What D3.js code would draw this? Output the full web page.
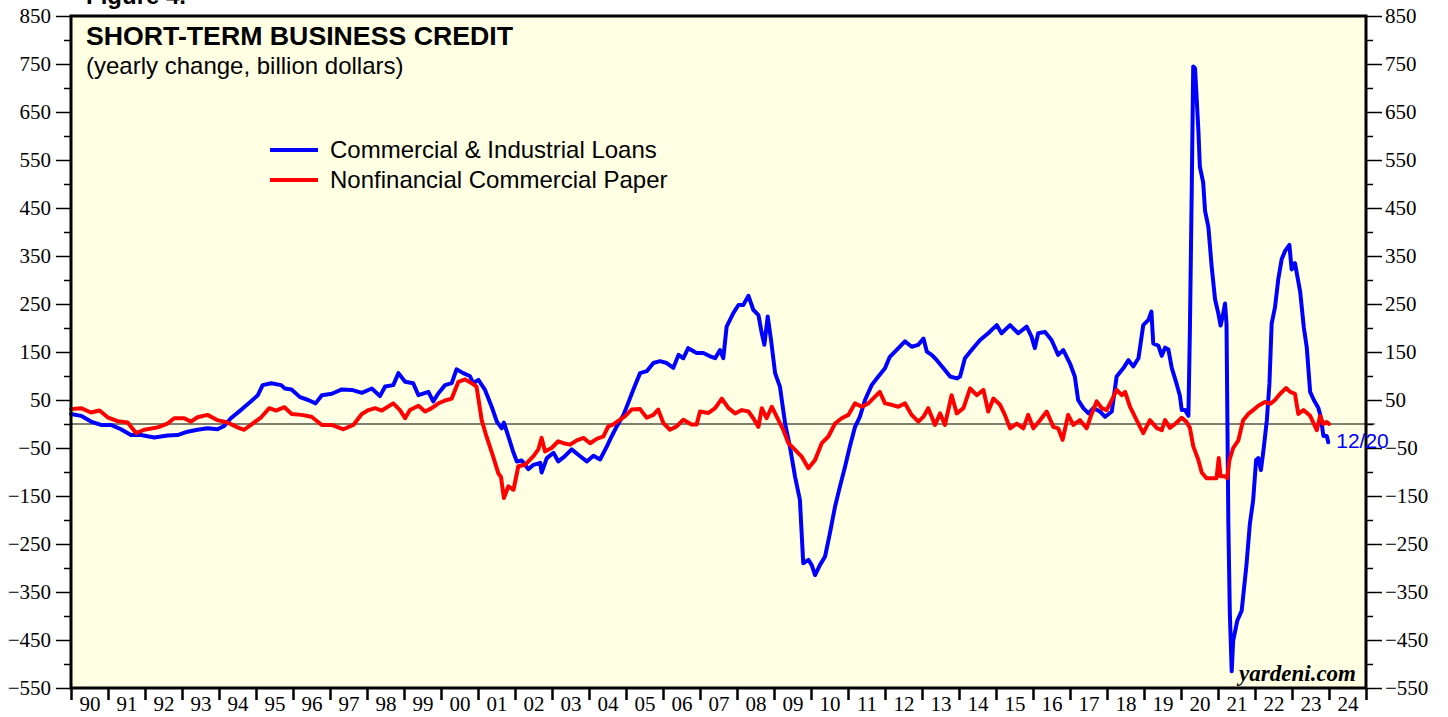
<!DOCTYPE html>
<html>
<head>
<meta charset="utf-8">
<script src="https://cdn.jsdelivr.net/npm/d3@7"></script>
<style>
  body { margin: 0; background: #fff; }
  .axis text { font-family: "Liberation Serif", "Times New Roman", serif; font-size: 21px; fill: #000; }
  .axis line { stroke: #000; stroke-width: 1.5; }
  .axis path { display: none; }
</style>
</head>
<body>
<div id="chart"></div>
<script>
const width = 1448;
const height = 717;
const plot = { left: 71, right: 1366, top: 16, bottom: 688 };

// yearly change, billion dollars  [decimal year, value]
const ciLoans = [
  [1990.00, 21], [1990.27, 17], [1990.54, 5], [1990.81, -2], [1991.08, -2], [1991.35, -11],
  [1991.62, -23], [1991.89, -23], [1992.25, -28], [1992.61, -24], [1992.88, -23], [1993.15, -16],
  [1993.42, -12], [1993.69, -9], [1993.96, -11], [1994.14, -4], [1994.32, 12], [1994.59, 29],
  [1994.86, 47], [1995.05, 60], [1995.18, 81], [1995.41, 85], [1995.68, 81], [1995.78, 74],
  [1995.96, 72], [1996.19, 56], [1996.41, 50], [1996.61, 43], [1996.78, 60], [1997.05, 63],
  [1997.32, 72], [1997.59, 71], [1997.86, 65], [1998.13, 74], [1998.35, 58], [1998.49, 78],
  [1998.71, 81], [1998.85, 106], [1999.03, 88], [1999.25, 85], [1999.39, 60], [1999.66, 67],
  [1999.79, 47], [1999.93, 64], [2000.11, 81], [2000.29, 85], [2000.42, 114], [2000.60, 106],
  [2000.78, 100], [2000.87, 85], [2001.01, 92], [2001.19, 71], [2001.37, 36], [2001.51, 5],
  [2001.64, -9], [2001.70, 3], [2001.82, -26], [2001.96, -60], [2002.05, -78], [2002.18, -76],
  [2002.36, -94], [2002.50, -85], [2002.68, -81], [2002.72, -101], [2002.86, -71], [2003.04, -60],
  [2003.17, -78], [2003.35, -67], [2003.53, -53], [2003.71, -64], [2003.94, -78], [2004.12, -66],
  [2004.30, -74], [2004.48, -47], [2004.61, -26], [2004.75, -5], [2004.93, 19], [2005.06, 44],
  [2005.20, 72], [2005.38, 106], [2005.56, 110], [2005.74, 127], [2005.92, 131], [2006.10, 127],
  [2006.28, 117], [2006.42, 144], [2006.55, 137], [2006.68, 158], [2006.91, 148], [2007.09, 148],
  [2007.27, 141], [2007.41, 137], [2007.54, 154], [2007.63, 137], [2007.72, 203], [2007.81, 217],
  [2007.90, 231], [2008.04, 248], [2008.17, 248], [2008.31, 267], [2008.44, 238], [2008.58, 227],
  [2008.67, 189], [2008.74, 165], [2008.83, 224], [2008.92, 175], [2009.03, 106], [2009.16, 78],
  [2009.30, 1], [2009.43, -47], [2009.57, -110], [2009.70, -158], [2009.79, -290], [2009.93, -283],
  [2010.02, -294], [2010.11, -315], [2010.24, -294], [2010.38, -276], [2010.51, -228], [2010.65, -172],
  [2010.78, -131], [2010.92, -89], [2011.05, -47], [2011.19, -6], [2011.32, 15], [2011.46, 50],
  [2011.64, 81], [2011.82, 99], [2012.00, 116], [2012.13, 140], [2012.31, 154], [2012.54, 172],
  [2012.72, 161], [2012.90, 165], [2013.04, 178], [2013.13, 151], [2013.26, 144], [2013.35, 137],
  [2013.40, 133], [2013.58, 116], [2013.76, 99], [2013.94, 95], [2014.03, 99], [2014.16, 137],
  [2014.34, 154], [2014.57, 175], [2014.79, 189], [2015.02, 206], [2015.15, 189], [2015.38, 206],
  [2015.60, 189], [2015.83, 203], [2015.96, 182], [2016.05, 158], [2016.14, 189], [2016.32, 192],
  [2016.50, 175], [2016.68, 144], [2016.82, 154], [2017.00, 126], [2017.13, 99], [2017.22, 50],
  [2017.36, 33], [2017.50, 22], [2017.63, 33], [2017.81, 26], [2017.95, 15], [2018.13, 26],
  [2018.26, 99], [2018.44, 116], [2018.58, 133], [2018.71, 120], [2018.85, 137], [2018.98, 206],
  [2019.12, 217], [2019.20, 234], [2019.25, 168], [2019.39, 163], [2019.48, 142], [2019.57, 159],
  [2019.66, 155], [2019.75, 117], [2019.88, 84], [2019.97, 59], [2020.02, 29], [2020.11, 29],
  [2020.20, 17], [2020.24, 193], [2020.29, 486], [2020.33, 745], [2020.38, 741], [2020.47, 611],
  [2020.51, 536], [2020.60, 503], [2020.65, 444], [2020.74, 410], [2020.83, 327], [2020.92, 260],
  [2021.01, 230], [2021.07, 205], [2021.13, 226], [2021.19, 251], [2021.23, 209], [2021.28, -209],
  [2021.32, -394], [2021.37, -515], [2021.41, -452], [2021.52, -410], [2021.64, -389], [2021.77, -293],
  [2021.86, -209], [2021.95, -159], [2022.03, -75], [2022.09, -71], [2022.16, -96], [2022.23, -54],
  [2022.32, 8], [2022.39, 84], [2022.45, 209], [2022.54, 243], [2022.63, 302], [2022.72, 343],
  [2022.81, 360], [2022.93, 373], [2022.99, 322], [2023.08, 335], [2023.22, 276], [2023.32, 201],
  [2023.40, 159], [2023.49, 67], [2023.59, 50], [2023.71, 34], [2023.77, 17], [2023.85, -25],
  [2023.94, -25], [2023.98, -38]
];

const cpPaper = [
  [1990.00, 31], [1990.27, 33], [1990.54, 24], [1990.77, 28], [1990.99, 14], [1991.26, 6],
  [1991.53, 3], [1991.76, -19], [1991.98, -12], [1992.34, -7], [1992.61, 1], [1992.79, 12],
  [1993.06, 12], [1993.24, 5], [1993.42, 14], [1993.69, 19], [1993.96, 8], [1994.23, 3],
  [1994.50, -7], [1994.68, -12], [1994.91, 1], [1995.14, 14], [1995.36, 33], [1995.54, 28],
  [1995.77, 35], [1995.96, 21], [1996.23, 19], [1996.50, 15], [1996.78, -2], [1997.05, -2],
  [1997.36, -11], [1997.63, -2], [1997.86, 21], [1998.04, 29], [1998.22, 33], [1998.40, 28],
  [1998.71, 43], [1998.89, 29], [1999.03, 12], [1999.16, 29], [1999.39, 38], [1999.57, 26],
  [1999.75, 33], [1999.93, 43], [2000.11, 49], [2000.29, 53], [2000.47, 88], [2000.65, 93],
  [2000.83, 85], [2000.96, 78], [2001.10, 8], [2001.23, -26], [2001.41, -68], [2001.55, -103],
  [2001.62, -110], [2001.70, -154], [2001.82, -130], [2001.96, -137], [2002.09, -88], [2002.27, -85],
  [2002.50, -67], [2002.63, -53], [2002.72, -29], [2002.81, -57], [2002.99, -50], [2003.17, -36],
  [2003.31, -40], [2003.49, -43], [2003.67, -34], [2003.85, -29], [2004.03, -40], [2004.21, -31],
  [2004.39, -26], [2004.52, -5], [2004.66, -1], [2004.84, 9], [2004.97, 16], [2005.15, 30],
  [2005.38, 31], [2005.56, 13], [2005.74, 19], [2005.87, 30], [2006.01, 2], [2006.19, -12],
  [2006.37, -5], [2006.55, 9], [2006.77, -1], [2006.91, -1], [2007.00, 26], [2007.23, 23],
  [2007.41, 33], [2007.59, 53], [2007.77, 33], [2007.95, 22], [2008.13, 29], [2008.31, 26],
  [2008.44, 12], [2008.58, -6], [2008.67, 33], [2008.80, 12], [2008.94, 36], [2009.12, 8],
  [2009.25, -12], [2009.39, -40], [2009.57, -54], [2009.75, -68], [2009.93, -92], [2010.11, -75],
  [2010.29, -40], [2010.47, -26], [2010.65, 1], [2010.83, 12], [2011.01, 19], [2011.19, 43],
  [2011.37, 36], [2011.55, 43], [2011.73, 57], [2011.86, 67], [2012.00, 43], [2012.18, 40],
  [2012.36, 36], [2012.54, 43], [2012.72, 19], [2012.90, 5], [2013.04, 15], [2013.17, 33],
  [2013.35, -2], [2013.49, 22], [2013.62, -2], [2013.80, 60], [2013.94, 22], [2014.12, 33],
  [2014.30, 74], [2014.48, 60], [2014.66, 71], [2014.79, 26], [2014.93, 53], [2015.11, 40],
  [2015.24, 19], [2015.38, -9], [2015.56, 1], [2015.74, -9], [2015.87, 19], [2016.01, -9],
  [2016.19, 8], [2016.37, 26], [2016.55, -6], [2016.68, -9], [2016.80, -33], [2016.95, 19],
  [2017.09, -2], [2017.27, 8], [2017.45, -9], [2017.59, 22], [2017.72, 47], [2017.86, 33],
  [2017.99, 29], [2018.13, 50], [2018.26, 71], [2018.40, 60], [2018.49, 67], [2018.62, 36],
  [2018.80, 8], [2018.98, -19], [2019.16, 8], [2019.34, -8], [2019.48, -13], [2019.57, 8],
  [2019.70, -8], [2019.84, 0], [2020.02, 13], [2020.15, 4], [2020.24, -8], [2020.33, -46],
  [2020.47, -75], [2020.56, -101], [2020.69, -113], [2020.83, -113], [2020.96, -113], [2021.02, -71],
  [2021.07, -109], [2021.19, -109], [2021.25, -113], [2021.31, -75], [2021.41, -50], [2021.55, -34],
  [2021.68, 8], [2021.82, 21], [2021.95, 29], [2022.09, 38], [2022.27, 46], [2022.41, 42],
  [2022.54, 50], [2022.68, 63], [2022.84, 75], [2022.95, 67], [2023.08, 63], [2023.17, 21],
  [2023.31, 29], [2023.49, 17], [2023.67, -13], [2023.76, 17], [2023.85, 0], [2023.94, 4],
  [2024.00, 0]
];

const majorTicks = d3.range(850, -551, -100);
const minorTicks = d3.range(800, -551, -100);
const years = d3.range(1990, 2026);
const legendLabels = ["Commercial & Industrial Loans", "Nonfinancial Commercial Paper"];
const lastDate = "12/20";

const svg = d3.select("#chart").append("svg")
  .attr("width", width)
  .attr("height", height);

const x = d3.scaleLinear().domain([1990, 2025]).range([plot.left, plot.right]);
const y = d3.scaleLinear().domain([-550, 850]).range([plot.bottom, plot.top]);

// top caption, cut off by the page edge like in the source
svg.append("text")
  .attr("x", 86).attr("y", 4)
  .style("font-family", "Liberation Sans, Arial, sans-serif")
  .style("font-weight", "bold")
  .style("font-size", "24px")
  .text("Figure 4.");

// plot background
svg.append("rect")
  .attr("x", plot.left).attr("y", plot.top)
  .attr("width", plot.right - plot.left)
  .attr("height", plot.bottom - plot.top)
  .attr("fill", "#ffffe3");

// left axis: major + minor ticks
svg.append("g").attr("class", "axis")
  .attr("transform", "translate(" + plot.left + ",0)")
  .call(d3.axisLeft(y).tickValues(majorTicks).tickSize(15).tickPadding(5).tickFormat(d3.format("d")));
svg.append("g").attr("class", "axis")
  .attr("transform", "translate(" + plot.left + ",0)")
  .call(d3.axisLeft(y).tickValues(minorTicks).tickSize(7).tickFormat(""));

// right axis
svg.append("g").attr("class", "axis")
  .attr("transform", "translate(" + plot.right + ",0)")
  .call(d3.axisRight(y).tickValues(majorTicks).tickSize(16).tickPadding(3).tickFormat(d3.format("d")));
svg.append("g").attr("class", "axis")
  .attr("transform", "translate(" + plot.right + ",0)")
  .call(d3.axisRight(y).tickValues(minorTicks).tickSize(7).tickFormat(""));

// bottom axis: year boundaries + labels in the middle of each year
svg.append("g").attr("class", "axis")
  .attr("transform", "translate(0," + plot.bottom + ")")
  .call(d3.axisBottom(x).tickValues(years).tickSize(12).tickFormat(""))
  .selectAll("line").style("stroke-width", 2.5);
svg.append("g").attr("class", "axis")
  .attr("transform", "translate(0," + plot.bottom + ")")
  .call(d3.axisBottom(x).tickValues(years.slice(0, -1).map(d => d + 0.5)).tickSize(0).tickPadding(8)
    .tickFormat(d => String(Math.floor(d)).slice(2)));

// zero line
svg.append("line")
  .attr("x1", plot.left).attr("x2", plot.right + 9)
  .attr("y1", y(0)).attr("y2", y(0))
  .attr("stroke", "#000").attr("stroke-width", 1.2);

const line = d3.line()
  .x(d => x(d[0]))
  .y(d => y(d[1]));

svg.append("path")
  .datum(ciLoans)
  .attr("d", line)
  .attr("fill", "none")
  .attr("stroke", "#0000ff")
  .attr("stroke-width", 4)
  .attr("stroke-linejoin", "round")
  .attr("stroke-linecap", "round");

svg.append("path")
  .datum(cpPaper)
  .attr("d", line)
  .attr("fill", "none")
  .attr("stroke", "#ff0000")
  .attr("stroke-width", 4)
  .attr("stroke-linejoin", "round")
  .attr("stroke-linecap", "round");

// frame
svg.append("rect")
  .attr("x", plot.left).attr("y", plot.top)
  .attr("width", plot.right - plot.left)
  .attr("height", plot.bottom - plot.top)
  .attr("fill", "none")
  .attr("stroke", "#000")
  .attr("stroke-width", 3);

// titles
svg.append("text")
  .attr("x", 86).attr("y", 45)
  .style("font-family", "Liberation Sans, Arial, sans-serif")
  .style("font-weight", "bold")
  .style("font-size", "26.7px")
  .text("SHORT-TERM BUSINESS CREDIT");

svg.append("text")
  .attr("x", 86).attr("y", 74)
  .style("font-family", "Liberation Sans, Arial, sans-serif")
  .style("font-size", "24px")
  .text("(yearly change, billion dollars)");

// legend
const legendColors = ["#0000ff", "#ff0000"];
const legend = svg.append("g").attr("transform", "translate(270,150)");
legend.selectAll("line")
  .data(legendLabels)
  .enter()
  .append("line")
  .attr("x1", 0).attr("x2", 48)
  .attr("y1", (d, i) => i * 30).attr("y2", (d, i) => i * 30)
  .attr("stroke", (d, i) => legendColors[i])
  .attr("stroke-width", 4);
legend.selectAll("text")
  .data(legendLabels)
  .enter()
  .append("text")
  .attr("x", 60)
  .attr("y", (d, i) => i * 30 + 8)
  .style("font-family", "Liberation Sans, Arial, sans-serif")
  .style("font-size", "24px")
  .text(d => d);

// last date label
const lastPoint = ciLoans[ciLoans.length - 1];
svg.append("text")
  .attr("x", x(lastPoint[0]) + 8)
  .attr("y", y(lastPoint[1]) + 6)
  .attr("fill", "#0000ff")
  .style("font-family", "Liberation Sans, Arial, sans-serif")
  .style("font-size", "21px")
  .text(lastDate);

// source
svg.append("text")
  .attr("x", 1356).attr("y", 681)
  .attr("text-anchor", "end")
  .style("font-family", "Liberation Serif, Times New Roman, serif")
  .style("font-weight", "bold")
  .style("font-style", "italic")
  .style("font-size", "23px")
  .text("yardeni.com");
</script>
</body>
</html>
